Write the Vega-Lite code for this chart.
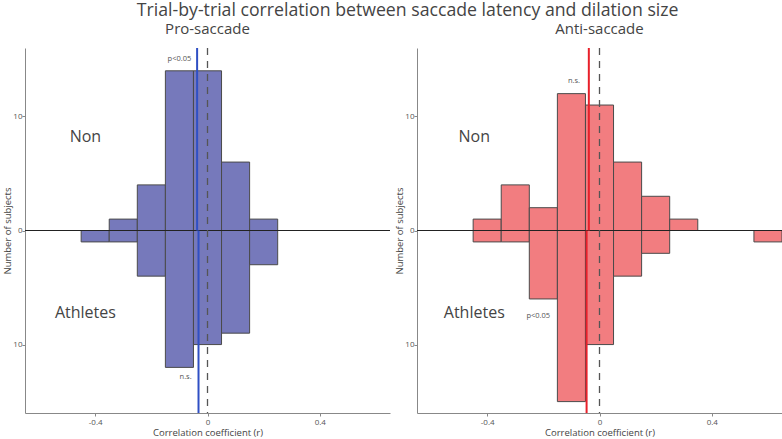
{
  "$schema": "https://vega.github.io/schema/vega-lite/v6.json",
  "padding": {"left": 2, "right": 0, "top": 2, "bottom": 0},
  "config": {
    "font": "Open Sans",
    "view": {"stroke": null},
    "axis": {
      "grid": false,
      "domainColor": "#888888",
      "tickColor": "#888888",
      "tickSize": 3,
      "labelFontSize": 8,
      "labelColor": "#555555",
      "labelPadding": 0,
      "titleFontSize": 9.5,
      "titleColor": "#444444",
      "titleFontWeight": "normal"
    },
    "title": {"color": "#444444", "fontWeight": "normal"}
  },
  "title": {
    "text": "Trial-by-trial correlation between saccade latency and dilation size",
    "fontSize": 17.7,
    "anchor": "middle",
    "dx": 15,
    "offset": 2
  },
  "datasets": {
    "hist": [
      {"task": "Pro-saccade", "group": "Non", "bin_start": -0.35, "bin_end": -0.25, "count": 1},
      {"task": "Pro-saccade", "group": "Non", "bin_start": -0.25, "bin_end": -0.15, "count": 4},
      {"task": "Pro-saccade", "group": "Non", "bin_start": -0.15, "bin_end": -0.05, "count": 14},
      {"task": "Pro-saccade", "group": "Non", "bin_start": -0.05, "bin_end": 0.05, "count": 14},
      {"task": "Pro-saccade", "group": "Non", "bin_start": 0.05, "bin_end": 0.15, "count": 6},
      {"task": "Pro-saccade", "group": "Non", "bin_start": 0.15, "bin_end": 0.25, "count": 1},
      {"task": "Pro-saccade", "group": "Athletes", "bin_start": -0.45, "bin_end": -0.35, "count": 1},
      {"task": "Pro-saccade", "group": "Athletes", "bin_start": -0.35, "bin_end": -0.25, "count": 1},
      {"task": "Pro-saccade", "group": "Athletes", "bin_start": -0.25, "bin_end": -0.15, "count": 4},
      {"task": "Pro-saccade", "group": "Athletes", "bin_start": -0.15, "bin_end": -0.05, "count": 12},
      {"task": "Pro-saccade", "group": "Athletes", "bin_start": -0.05, "bin_end": 0.05, "count": 10},
      {"task": "Pro-saccade", "group": "Athletes", "bin_start": 0.05, "bin_end": 0.15, "count": 9},
      {"task": "Pro-saccade", "group": "Athletes", "bin_start": 0.15, "bin_end": 0.25, "count": 3},
      {"task": "Anti-saccade", "group": "Non", "bin_start": -0.45, "bin_end": -0.35, "count": 1},
      {"task": "Anti-saccade", "group": "Non", "bin_start": -0.35, "bin_end": -0.25, "count": 4},
      {"task": "Anti-saccade", "group": "Non", "bin_start": -0.25, "bin_end": -0.15, "count": 2},
      {"task": "Anti-saccade", "group": "Non", "bin_start": -0.15, "bin_end": -0.05, "count": 12},
      {"task": "Anti-saccade", "group": "Non", "bin_start": -0.05, "bin_end": 0.05, "count": 11},
      {"task": "Anti-saccade", "group": "Non", "bin_start": 0.05, "bin_end": 0.15, "count": 6},
      {"task": "Anti-saccade", "group": "Non", "bin_start": 0.15, "bin_end": 0.25, "count": 3},
      {"task": "Anti-saccade", "group": "Non", "bin_start": 0.25, "bin_end": 0.35, "count": 1},
      {"task": "Anti-saccade", "group": "Athletes", "bin_start": -0.45, "bin_end": -0.35, "count": 1},
      {"task": "Anti-saccade", "group": "Athletes", "bin_start": -0.35, "bin_end": -0.25, "count": 1},
      {"task": "Anti-saccade", "group": "Athletes", "bin_start": -0.25, "bin_end": -0.15, "count": 6},
      {"task": "Anti-saccade", "group": "Athletes", "bin_start": -0.15, "bin_end": -0.05, "count": 15},
      {"task": "Anti-saccade", "group": "Athletes", "bin_start": -0.05, "bin_end": 0.05, "count": 10},
      {"task": "Anti-saccade", "group": "Athletes", "bin_start": 0.05, "bin_end": 0.15, "count": 4},
      {"task": "Anti-saccade", "group": "Athletes", "bin_start": 0.15, "bin_end": 0.25, "count": 2},
      {"task": "Anti-saccade", "group": "Athletes", "bin_start": 0.55, "bin_end": 0.65, "count": 1}
    ],
    "means": [
      {"task": "Pro-saccade", "group": "Non", "mean_r": -0.037},
      {"task": "Pro-saccade", "group": "Athletes", "mean_r": -0.032},
      {"task": "Anti-saccade", "group": "Non", "mean_r": -0.038},
      {"task": "Anti-saccade", "group": "Athletes", "mean_r": -0.046}
    ],
    "one": [{}]
  },
  "spacing": 3,
  "hconcat": [
    {
      "width": 365,
      "height": 365,
      "title": {"text": "Pro-saccade", "fontSize": 15, "offset": 10},
      "layer": [
        {
          "data": {"name": "hist"},
          "transform": [
            {"filter": "datum.task === 'Pro-saccade'"},
            {"calculate": "datum.group === 'Athletes' ? -datum.count : datum.count", "as": "signed_count"}
          ],
          "mark": {"type": "bar", "fill": "#7679bb", "stroke": "#4a4a4a", "strokeWidth": 1, "opacity": 1},
          "encoding": {
            "x": {
              "field": "bin_start", "type": "quantitative",
              "scale": {"domain": [-0.65, 0.65], "nice": false},
              "axis": {"values": [-0.4, 0, 0.4], "title": "Correlation coefficient (r)", "titlePadding": 1, "labelPadding": 2,
                       "labelExpr": "datum.value < 0 ? '-' + format(-datum.value, '.1f') : (datum.value == 0 ? '0' : format(datum.value, '.1f'))"}
            },
            "x2": {"field": "bin_end"},
            "y": {
              "field": "signed_count", "type": "quantitative",
              "scale": {"domain": [-16, 16], "nice": false},
              "axis": {"values": [-10, 0, 10], "title": "Number of subjects", "titlePadding": 0,
                       "labelExpr": "format(abs(datum.value), 'd')"}
            },
            "y2": {"datum": 0}
          }
        },
        {
          "data": {"name": "one"},
          "mark": {"type": "rule", "color": "#222222", "strokeWidth": 1},
          "encoding": {"y": {"datum": 0}}
        },
        {
          "data": {"name": "one"},
          "mark": {"type": "rule", "color": "#555555", "strokeWidth": 1.3, "strokeDash": [7, 6]},
          "encoding": {"x": {"datum": 0}}
        },
        {
          "data": {"name": "means"},
          "transform": [{"filter": "datum.task === 'Pro-saccade' && datum.group === 'Non'"}],
          "mark": {"type": "rule", "color": "#2f4fc4", "strokeWidth": 2},
          "encoding": {"x": {"field": "mean_r", "type": "quantitative"}, "y": {"datum": 0}, "y2": {"datum": 16}}
        },
        {
          "data": {"name": "means"},
          "transform": [{"filter": "datum.task === 'Pro-saccade' && datum.group === 'Athletes'"}],
          "mark": {"type": "rule", "color": "#2f4fc4", "strokeWidth": 2},
          "encoding": {"x": {"field": "mean_r", "type": "quantitative"}, "y": {"datum": 0}, "y2": {"datum": -16}}
        },
        {
          "data": {"name": "one"},
          "mark": {"type": "text", "text": "Non", "fontSize": 16, "color": "#444444"},
          "encoding": {"x": {"datum": -0.435}, "y": {"datum": 8.2}}
        },
        {
          "data": {"name": "one"},
          "mark": {"type": "text", "text": "Athletes", "fontSize": 16, "color": "#444444"},
          "encoding": {"x": {"datum": -0.435}, "y": {"datum": -7.2}}
        },
        {
          "data": {"name": "one"},
          "mark": {"type": "text", "text": "p<0.05", "fontSize": 7.5, "color": "#555555"},
          "encoding": {"x": {"datum": -0.1}, "y": {"datum": 15.05}}
        },
        {
          "data": {"name": "one"},
          "mark": {"type": "text", "text": "n.s.", "fontSize": 7.5, "color": "#555555"},
          "encoding": {"x": {"datum": -0.078}, "y": {"datum": -12.8}}
        }
      ]
    },
    {
      "width": 365,
      "height": 365,
      "title": {"text": "Anti-saccade", "fontSize": 15, "offset": 10},
      "layer": [
        {
          "data": {"name": "hist"},
          "transform": [
            {"filter": "datum.task === 'Anti-saccade'"},
            {"calculate": "datum.group === 'Athletes' ? -datum.count : datum.count", "as": "signed_count"}
          ],
          "mark": {"type": "bar", "fill": "#f27d80", "stroke": "#4a4a4a", "strokeWidth": 1, "opacity": 1},
          "encoding": {
            "x": {
              "field": "bin_start", "type": "quantitative",
              "scale": {"domain": [-0.65, 0.65], "nice": false},
              "axis": {"values": [-0.4, 0, 0.4], "title": "Correlation coefficient (r)", "titlePadding": 1, "labelPadding": 2,
                       "labelExpr": "datum.value < 0 ? '-' + format(-datum.value, '.1f') : (datum.value == 0 ? '0' : format(datum.value, '.1f'))"}
            },
            "x2": {"field": "bin_end"},
            "y": {
              "field": "signed_count", "type": "quantitative",
              "scale": {"domain": [-16, 16], "nice": false},
              "axis": {"values": [-10, 0, 10], "title": "Number of subjects", "titlePadding": 0,
                       "labelExpr": "format(abs(datum.value), 'd')"}
            },
            "y2": {"datum": 0}
          }
        },
        {
          "data": {"name": "one"},
          "mark": {"type": "rule", "color": "#222222", "strokeWidth": 1},
          "encoding": {"y": {"datum": 0}}
        },
        {
          "data": {"name": "one"},
          "mark": {"type": "rule", "color": "#555555", "strokeWidth": 1.3, "strokeDash": [7, 6]},
          "encoding": {"x": {"datum": 0}}
        },
        {
          "data": {"name": "means"},
          "transform": [{"filter": "datum.task === 'Anti-saccade' && datum.group === 'Non'"}],
          "mark": {"type": "rule", "color": "#e8202a", "strokeWidth": 2},
          "encoding": {"x": {"field": "mean_r", "type": "quantitative"}, "y": {"datum": 0}, "y2": {"datum": 16}}
        },
        {
          "data": {"name": "means"},
          "transform": [{"filter": "datum.task === 'Anti-saccade' && datum.group === 'Athletes'"}],
          "mark": {"type": "rule", "color": "#e8202a", "strokeWidth": 2},
          "encoding": {"x": {"field": "mean_r", "type": "quantitative"}, "y": {"datum": 0}, "y2": {"datum": -16}}
        },
        {
          "data": {"name": "one"},
          "mark": {"type": "text", "text": "Non", "fontSize": 16, "color": "#444444"},
          "encoding": {"x": {"datum": -0.446}, "y": {"datum": 8.2}}
        },
        {
          "data": {"name": "one"},
          "mark": {"type": "text", "text": "Athletes", "fontSize": 16, "color": "#444444"},
          "encoding": {"x": {"datum": -0.446}, "y": {"datum": -7.2}}
        },
        {
          "data": {"name": "one"},
          "mark": {"type": "text", "text": "n.s.", "fontSize": 7.5, "color": "#555555"},
          "encoding": {"x": {"datum": -0.091}, "y": {"datum": 13.1}}
        },
        {
          "data": {"name": "one"},
          "mark": {"type": "text", "text": "p<0.05", "fontSize": 7.5, "color": "#555555"},
          "encoding": {"x": {"datum": -0.218}, "y": {"datum": -7.5}}
        }
      ]
    }
  ]
}
